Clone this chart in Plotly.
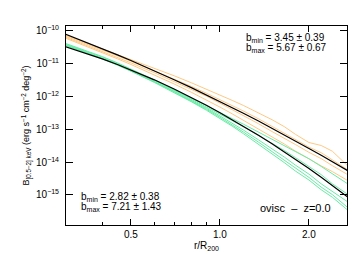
import plotly.graph_objects as go

# radius grid (r/R200)
r = [0.30, 0.35, 0.40, 0.45, 0.50, 0.60, 0.70, 0.80, 0.90, 1.00,
     1.10, 1.20, 1.35, 1.50, 1.65, 1.80, 2.00, 2.20, 2.40, 2.70]

# log10 of surface brightness
fit_upper = [-10.096, -10.329, -10.537, -10.727, -10.901, -11.212, -11.485, -11.728, -11.948, -12.150,
             -12.336, -12.509, -12.747, -12.965, -13.165, -13.351, -13.580, -13.791, -13.986, -14.256]
fit_lower = [-10.477, -10.668, -10.849, -11.021, -11.184, -11.489, -11.768, -12.026, -12.266, -12.490,
             -12.701, -12.900, -13.179, -13.439, -13.682, -13.910, -14.194, -14.460, -14.709, -15.056]

orange_1 = [-10.126, -10.349, -10.537, -10.707, -10.861, -11.132, -11.365, -11.578, -11.768, -11.950,
            -12.116, -12.269, -12.497, -12.705, -12.915, -13.151, -13.400, -13.491, -13.666, -14.106]
orange_2 = [-10.156, -10.379, -10.577, -10.757, -10.921, -11.212, -11.465, -11.688, -11.898, -12.090,
            -12.276, -12.439, -12.677, -12.905, -13.115, -13.291, -13.540, -13.711, -13.926, -14.226]
orange_3 = [-10.186, -10.419, -10.617, -10.807, -10.971, -11.272, -11.535, -11.768, -11.988, -12.200,
            -12.396, -12.579, -12.827, -13.065, -13.265, -13.461, -13.700, -13.891, -14.106, -14.376]
orange_4 = [-10.216, -10.449, -10.657, -10.847, -11.021, -11.332, -11.615, -11.868, -12.098, -12.320,
            -12.526, -12.719, -12.987, -13.235, -13.445, -13.661, -13.910, -14.111, -14.286, -14.556]

green_1 = [-10.377, -10.588, -10.779, -10.971, -11.154, -11.489, -11.788, -12.056, -12.286, -12.490,
           -12.671, -12.840, -13.079, -13.289, -13.482, -13.660, -13.894, -14.130, -14.349, -14.656]
green_2 = [-10.397, -10.608, -10.799, -10.991, -11.174, -11.509, -11.808, -12.076, -12.316, -12.530,
           -12.731, -12.920, -13.179, -13.419, -13.642, -13.860, -14.134, -14.380, -14.659, -14.976]
green_3 = [-10.417, -10.628, -10.829, -11.021, -11.204, -11.539, -11.838, -12.106, -12.356, -12.590,
           -12.811, -13.020, -13.319, -13.589, -13.842, -14.090, -14.364, -14.660, -14.889, -15.206]
green_4 = [-10.427, -10.638, -10.839, -11.031, -11.214, -11.549, -11.858, -12.136, -12.386, -12.630,
           -12.861, -13.080, -13.389, -13.679, -13.942, -14.190, -14.464, -14.760, -14.989, -15.376]
green_5 = [-10.437, -10.648, -10.849, -11.041, -11.224, -11.569, -11.878, -12.156, -12.416, -12.660,
           -12.901, -13.130, -13.449, -13.739, -14.012, -14.270, -14.544, -14.840, -15.069, -15.456]

x_major = [0.5, 1.0, 2.0]
x_major_text = ["0.5", "1.0", "2.0"]
x_minor = [0.4, 0.6, 0.7, 0.8, 0.9]
y_ticks = [1e-10, 1e-11, 1e-12, 1e-13, 1e-14, 1e-15]
y_tick_text = ["10<sup>−10</sup>", "10<sup>−11</sup>", "10<sup>−12</sup>",
               "10<sup>−13</sup>", "10<sup>−14</sup>", "10<sup>−15</sup>"]

labels_upper = ["b<sub>min</sub> = 3.45 ± 0.39", "b<sub>max</sub> = 5.67 ± 0.67"]
labels_lower = ["b<sub>min</sub> = 2.82 ± 0.38", "b<sub>max</sub> = 7.21 ± 1.43"]
run_label = "ovisc  –  z=0.0"

ORANGE = "rgb(255,200,130)"
GREEN = "rgb(105,235,165)"
FONT = "Liberation Sans"

def lin(v):
    return [10 ** e for e in v]

fig = go.Figure()
for s in [orange_1, orange_2, orange_3, orange_4]:
    fig.add_trace(go.Scatter(x=r, y=lin(s), mode="lines", line=dict(color=ORANGE, width=1)))
for s in [green_1, green_2, green_3, green_4, green_5]:
    fig.add_trace(go.Scatter(x=r, y=lin(s), mode="lines", line=dict(color=GREEN, width=1)))
for s in [fit_upper, fit_lower]:
    fig.add_trace(go.Scatter(x=r, y=lin(s), mode="lines", line=dict(color="black", width=1.2)))

fig.update_layout(
    width=357, height=255,
    margin=dict(l=58, r=18, t=18, b=38),
    paper_bgcolor="white", plot_bgcolor="white",
    showlegend=False,
    font=dict(family=FONT, size=10, color="black"),
)
fig.update_xaxes(
    type="log", range=[-0.5206, 0.4297],
    tickvals=x_major, ticktext=x_major_text,
    ticks="inside", ticklen=6, tickcolor="black",
    minor=dict(tickvals=x_minor, ticks="inside", ticklen=3, tickcolor="black"),
    showline=True, linecolor="black", linewidth=1, mirror="ticks",
    showgrid=False, zeroline=False,
    title=dict(text="r/R<sub>200</sub>", standoff=2, font=dict(size=10)),
    tickfont=dict(size=10),
)
fig.update_yaxes(
    type="log", range=[-15.915, -9.848],
    tickvals=y_ticks, ticktext=y_tick_text,
    ticks="inside", ticklen=7, tickcolor="black",
    showline=True, linecolor="black", linewidth=1, mirror="ticks",
    showgrid=False, zeroline=False,
    ticklabelstandoff=4,
    title=dict(text="B<sub>[0.5−2] keV</sub> (erg s<sup>−1</sup> cm<sup>−2</sup> deg<sup>−2</sup>)",
               standoff=4, font=dict(size=9)),
    tickfont=dict(size=10),
)

for i, t in enumerate(labels_upper):
    fig.add_annotation(xref="paper", yref="paper", x=0.633, y=0.94 - 0.052 * i,
                       xanchor="left", yanchor="middle", showarrow=False,
                       font=dict(size=10), text=t)
for i, t in enumerate(labels_lower):
    fig.add_annotation(xref="paper", yref="paper", x=0.046, y=0.14 - 0.052 * i,
                       xanchor="left", yanchor="middle", showarrow=False,
                       font=dict(size=10), text=t)
fig.add_annotation(xref="paper", yref="paper", x=0.95, y=0.085, xanchor="right", yanchor="middle",
                   showarrow=False, font=dict(size=11), text=run_label)

fig.write_html("out.html")
